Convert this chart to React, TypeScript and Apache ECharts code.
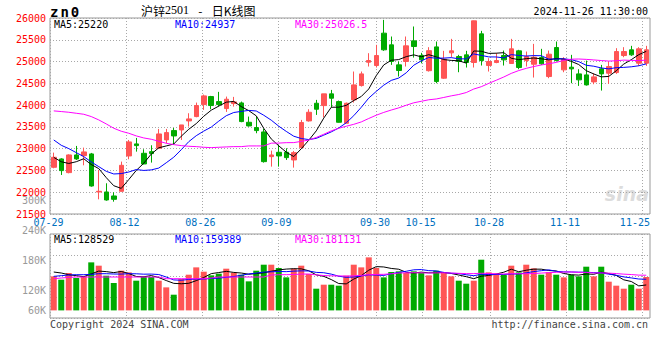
import React, { useEffect, useRef } from 'react';
import * as echarts from 'echarts';

const dates = ['07-29','07-30','07-31','08-01','08-02','08-05','08-06','08-07','08-08','08-09',
  '08-12','08-13','08-14','08-15','08-16','08-19','08-20','08-21','08-22','08-23',
  '08-26','08-27','08-28','08-29','08-30','09-02','09-03','09-04','09-05','09-06',
  '09-09','09-10','09-11','09-12','09-13','09-18','09-19','09-20','09-23','09-24',
  '09-25','09-26','09-27','09-30','10-08','10-09','10-10','10-11','10-14','10-15',
  '10-16','10-17','10-18','10-21','10-22','10-23','10-24','10-25','10-28','10-29',
  '10-30','10-31','11-01','11-04','11-05','11-06','11-07','11-08','11-11','11-12',
  '11-13','11-14','11-15','11-18','11-19','11-20','11-21','11-22','11-25','11-26'];

const labelIdx = [0, 10, 20, 30, 43, 49, 58, 68, 78];

// [open, close, low, high]
const ohlc = [
  [22572,22802,22549,22909],[22764,22496,22396,22780],[22450,22856,22434,22870],[22856,22764,22741,23063],[22840,22925,22618,23024],
  [22879,22143,22128,22902],[22006,22021,21837,22511],[22006,21822,21806,22205],[21914,21837,21783,21998],[22021,22618,22013,22703],
  [22833,23155,22756,23200],[23109,23070,22932,23246],[22894,22649,22641,22986],[22932,22887,22680,23078],[23009,23338,23009,23453],
  [23201,23369,23124,23453],[23415,23292,23086,23476],[23430,23545,23201,23545],[23637,23683,23507,23813],[23737,23990,23721,24058],
  [24012,24212,23890,24242],[24196,23990,23905,24212],[24081,24012,23966,24304],[23921,24135,23844,24196],[24035,24074,23966,24189],
  [24050,23622,23607,24081],[23606,23522,23507,23737],[23484,23415,23354,23737],[23384,22702,22680,23461],[22817,22855,22588,22955],
  [22917,22833,22588,23085],[22917,22794,22741,23009],[22741,22909,22565,22948],[23024,23599,23009,23660],[23637,23836,23622,23905],
  [24043,23905,23775,24120],[23989,24258,23721,24258],[24258,24158,23951,24349],[24081,23606,23599,24104],[23583,24043,23583,24058],
  [24120,24464,24058,24771],[24449,24717,24426,24771],[24985,25024,24886,25192],[24909,25138,24863,25384],[25652,25269,25246,25958],
  [25384,25001,24924,25575],[24924,24794,24656,25001],[25001,25361,24886,25575],[25475,25345,25092,25805],[25140,25040,24960,25200],
  [24790,25250,24770,25330],[25337,24541,24503,25460],[24618,25054,24602,25246],[25200,25246,25100,25521],[25115,25001,24755,25154],
  [25154,24978,24863,25246],[24978,25935,24863,25940],[25636,25023,24909,25705],[24909,25001,24771,25077],[24978,25023,24962,25192],
  [25138,25039,24909,25253],[24955,25292,24947,25521],[25246,24863,24824,25269],[25023,25115,24886,25230],[24939,25100,24633,25406],
  [25092,24947,24924,25292],[24656,25169,24618,25253],[25322,25023,25001,25460],[24809,25054,24755,25100],[24870,24832,24503,25154],
  [24717,24580,24441,24824],[24694,24464,24449,25023],[24533,24648,24480,24732],[24832,24717,24334,24924],[24732,24885,24487,25001],
  [24748,25230,24717,25307],[25138,25230,25100,25330],[25269,25154,25131,25361],[24962,25292,24901,25330],[24962,25269,24901,25361]
];

const volumes = [
  172200,155300,189100,163800,172200,243000,226200,175600,138500,200900,
  192400,150300,168900,168900,150300,116500,79400,158700,180600,217700,
  195800,177300,185700,211000,190800,180600,146900,200900,231200,231200,
  214400,167100,211000,226200,184000,109800,130000,130000,125000,175600,
  231200,217700,268300,214400,167100,194200,197500,189100,197500,189100,
  177300,200900,194200,172200,150300,135100,150300,256500,192400,185700,
  180600,226200,192400,231200,212700,180600,192400,180600,167100,180600,
  172200,221100,172200,221100,145200,125000,109800,130000,109800,168900
];

// moving-average values before a full window exists
const priceMa5Lead = [22800, 22700, 22660, 22700];
const priceMa10Lead = [23200, 23078, 23001, 22909, 22818, 22695, 22588, 22480, 22419];
const priceMa30Lead = [23867, 23852, 23836, 23813, 23790, 23737, 23660, 23568, 23469, 23400,
  23354, 23293, 23246, 23216, 23170, 23124, 23093, 23070, 23055, 23047,
  23032, 23024, 23032, 23040, 23047, 23047, 23063, 23063, 23063];
const volMa5Lead = [194100, 189100, 180600, 175600];
const volMa10Lead = [172200, 175600, 179000, 180600, 180600, 182300, 185700, 185700, 184000];
const volMa30Lead = [160400, 163800, 167100, 168900, 168900, 168900, 168900, 168900, 168900, 168900,
  168900, 168900, 168900, 168900, 168900, 160400, 160400, 160400, 160400, 160400,
  160400, 163800, 168900, 168900, 168900, 168900, 168900, 168900, 168900];

const priceLegend = ['MA5:25220', 'MA10:24937', 'MA30:25026.5'];
const volLegend = ['MA5:128529', 'MA10:159389', 'MA30:181131'];
const stamp = '2024-11-26 11:30:00';

const RED = '#ff5555';
const GREEN = '#00aa00';
const MONO = '"DejaVu Sans Mono", "Liberation Mono", monospace';
const CJK = '"Noto Sans CJK SC", sans-serif';
const GRIDLINE = { color: '#a8a8a8', type: [1, 2] as number[], width: 1 };

function movingAverage(vals: number[], n: number, lead: number[]) {
  return vals.map((_, i) => {
    if (i < n - 1) return lead[i];
    let s = 0;
    for (let k = i - n + 1; k <= i; k++) s += vals[k];
    return Math.round((s / n) * 10) / 10;
  });
}

export default function App() {
  const ref = useRef<HTMLDivElement>(null);
  useEffect(() => {
    if (!ref.current) return;
    const chart = echarts.init(ref.current, null, { renderer: 'svg' });
    const closes = ohlc.map((d) => d[1]);
    const isUp = ohlc.map((d) => d[1] >= d[0]);
    const showIdx = (i: number) => labelIdx.includes(i);
    const lineSeries = (name: string, data: number[], color: string, xi: number, yi: number) => ({
      name, type: 'line', data, xAxisIndex: xi, yAxisIndex: yi, symbol: 'none', silent: true,
      lineStyle: { color, width: 1 }, z: 5,
    });
    const legendText = (texts: string[], y: number) => [
      { type: 'text', left: 54, top: y, style: { text: texts[0], fill: '#000', font: `10px ${MONO}` } },
      { type: 'text', left: 175, top: y, style: { text: texts[1], fill: '#0000ff', font: `10px ${MONO}` } },
      { type: 'text', left: 295, top: y, style: { text: texts[2], fill: '#ff00ff', font: `10px ${MONO}` } },
    ];
    const option: any = {
      animation: false,
      backgroundColor: '#fff',
      grid: [
        { left: 50, top: 18, width: 600, height: 196, show: true, borderColor: '#999', borderWidth: 1 },
        { left: 50, top: 234, width: 600, height: 84, show: true, borderColor: '#999', borderWidth: 1 },
        { left: 50, top: 200.3, width: 600, height: 120.6, show: false },
      ],
      xAxis: [
        { type: 'category', gridIndex: 0, data: dates, boundaryGap: true, show: false, position: 'top' },
        {
          type: 'category', gridIndex: 0, data: dates, boundaryGap: false, position: 'bottom',
          axisLine: { show: false }, axisTick: { show: false },
          axisLabel: {
            show: true, interval: showIdx, color: '#0070c0', fontFamily: MONO, fontSize: 10, margin: 3,
            padding: [0, 3, 0, 0],
            formatter: (v: string, i: number) => (i === 78 ? `{e|${v}}` : v),
            rich: { e: { padding: [0, 12, 0, 0], color: '#0070c0', fontFamily: MONO, fontSize: 10 } },
          },
          splitLine: { show: true, interval: showIdx, lineStyle: GRIDLINE },
        },
        { type: 'category', gridIndex: 1, data: dates, boundaryGap: true, show: false, position: 'top' },
        {
          type: 'category', gridIndex: 1, data: dates, boundaryGap: false, position: 'bottom',
          axisLine: { show: false }, axisTick: { show: false }, axisLabel: { show: false },
          splitLine: { show: true, interval: showIdx, lineStyle: GRIDLINE },
        },
        { type: 'value', gridIndex: 2, show: false },
      ],
      yAxis: [
        {
          type: 'value', gridIndex: 0, min: 21500, max: 26000, interval: 500, position: 'left',
          axisLine: { show: false }, axisTick: { show: false },
          axisLabel: { color: '#ff0000', fontFamily: MONO, fontSize: 10, margin: 4, padding: [0, 0, 3, 0],
            formatter: (v: number) => String(v) },
          splitLine: { show: true, lineStyle: GRIDLINE },
        },
        {
          type: 'value', gridIndex: 1, min: -38500, max: 386500, interval: 106250,
          axisLine: { show: false }, axisTick: { show: false }, axisLabel: { show: false },
          splitLine: { show: true, lineStyle: GRIDLINE },
        },
        {
          type: 'value', gridIndex: 2, min: 60000, max: 300000, interval: 60000, position: 'left',
          axisLine: { show: false }, axisTick: { show: false }, splitLine: { show: false },
          axisLabel: {
            color: '#999', fontFamily: MONO, fontSize: 10, margin: 4,
            formatter: (v: number) => (v === 60000 ? '{b|60K}' : `${v / 1000}K`),
            rich: { b: { padding: [0, 0, 20, 0], color: '#999', fontFamily: MONO, fontSize: 10 } },
          },
        },
      ],
      series: [
        {
          name: 'K', type: 'candlestick', xAxisIndex: 0, yAxisIndex: 0, data: ohlc, barWidth: 5, silent: true,
          itemStyle: { color: RED, color0: GREEN, borderColor: RED, borderColor0: GREEN, borderWidth: 1 },
        },
        lineSeries('MA5', movingAverage(closes, 5, priceMa5Lead), '#000000', 0, 0),
        lineSeries('MA10', movingAverage(closes, 10, priceMa10Lead), '#0000ff', 0, 0),
        lineSeries('MA30', movingAverage(closes, 30, priceMa30Lead), '#ff00ff', 0, 0),
        {
          name: 'VOL', type: 'bar', xAxisIndex: 2, yAxisIndex: 1, barWidth: 6, silent: true,
          data: volumes.map((v, i) => ({ value: v, itemStyle: { color: isUp[i] ? RED : GREEN } })),
        },
        lineSeries('VMA5', movingAverage(volumes, 5, volMa5Lead), '#000000', 2, 1),
        lineSeries('VMA10', movingAverage(volumes, 10, volMa10Lead), '#0000ff', 2, 1),
        lineSeries('VMA30', movingAverage(volumes, 30, volMa30Lead), '#ff00ff', 2, 1),
      ],
      graphic: [
        {
          type: 'text', left: 50, top: 5,
          style: {
            text: '{z|z}{z|n}{z|0}', fill: '#000',
            rich: { z: { font: `bold 14px ${MONO}`, fill: '#000', padding: [0, 2, 0, 0] } },
          },
        },
        {
          type: 'text', left: 141, top: 4,
          style: {
            text: '{c|沪锌}{n|2501} {d|-} {c|日K线图}', fill: '#000',
            rich: {
              c: { font: `12px ${CJK}`, fill: '#000' },
              n: { font: '12px "Liberation Serif", serif', fill: '#000' },
              d: { font: `12px ${CJK}`, fill: '#000', padding: [0, 6, 0, 6] },
            },
          },
        },
        { type: 'text', right: 12, top: 6, style: { text: stamp, fill: '#000', font: `10px ${MONO}` } },
        ...legendText(priceLegend, 19),
        ...legendText(volLegend, 234),
        { type: 'text', left: 50, top: 319, style: { text: 'Copyright 2024 SINA.COM', fill: '#444', font: `10px ${MONO}` } },
        { type: 'text', right: 12, top: 319, style: { text: 'http://finance.sina.com.cn', fill: '#444', font: `10px ${MONO}` } },
        { type: 'text', right: 11, top: 184, z: -1, style: { text: 'sina', fill: '#dcdcdc', font: 'italic bold 19px "DejaVu Sans", sans-serif' } },
      ],
    };
    chart.setOption(option);
    return () => chart.dispose();
  }, []);
  return <div ref={ref} style={{ position: 'absolute', left: 0, top: 0, width: 660, height: 360, background: '#fff' }} />;
}
